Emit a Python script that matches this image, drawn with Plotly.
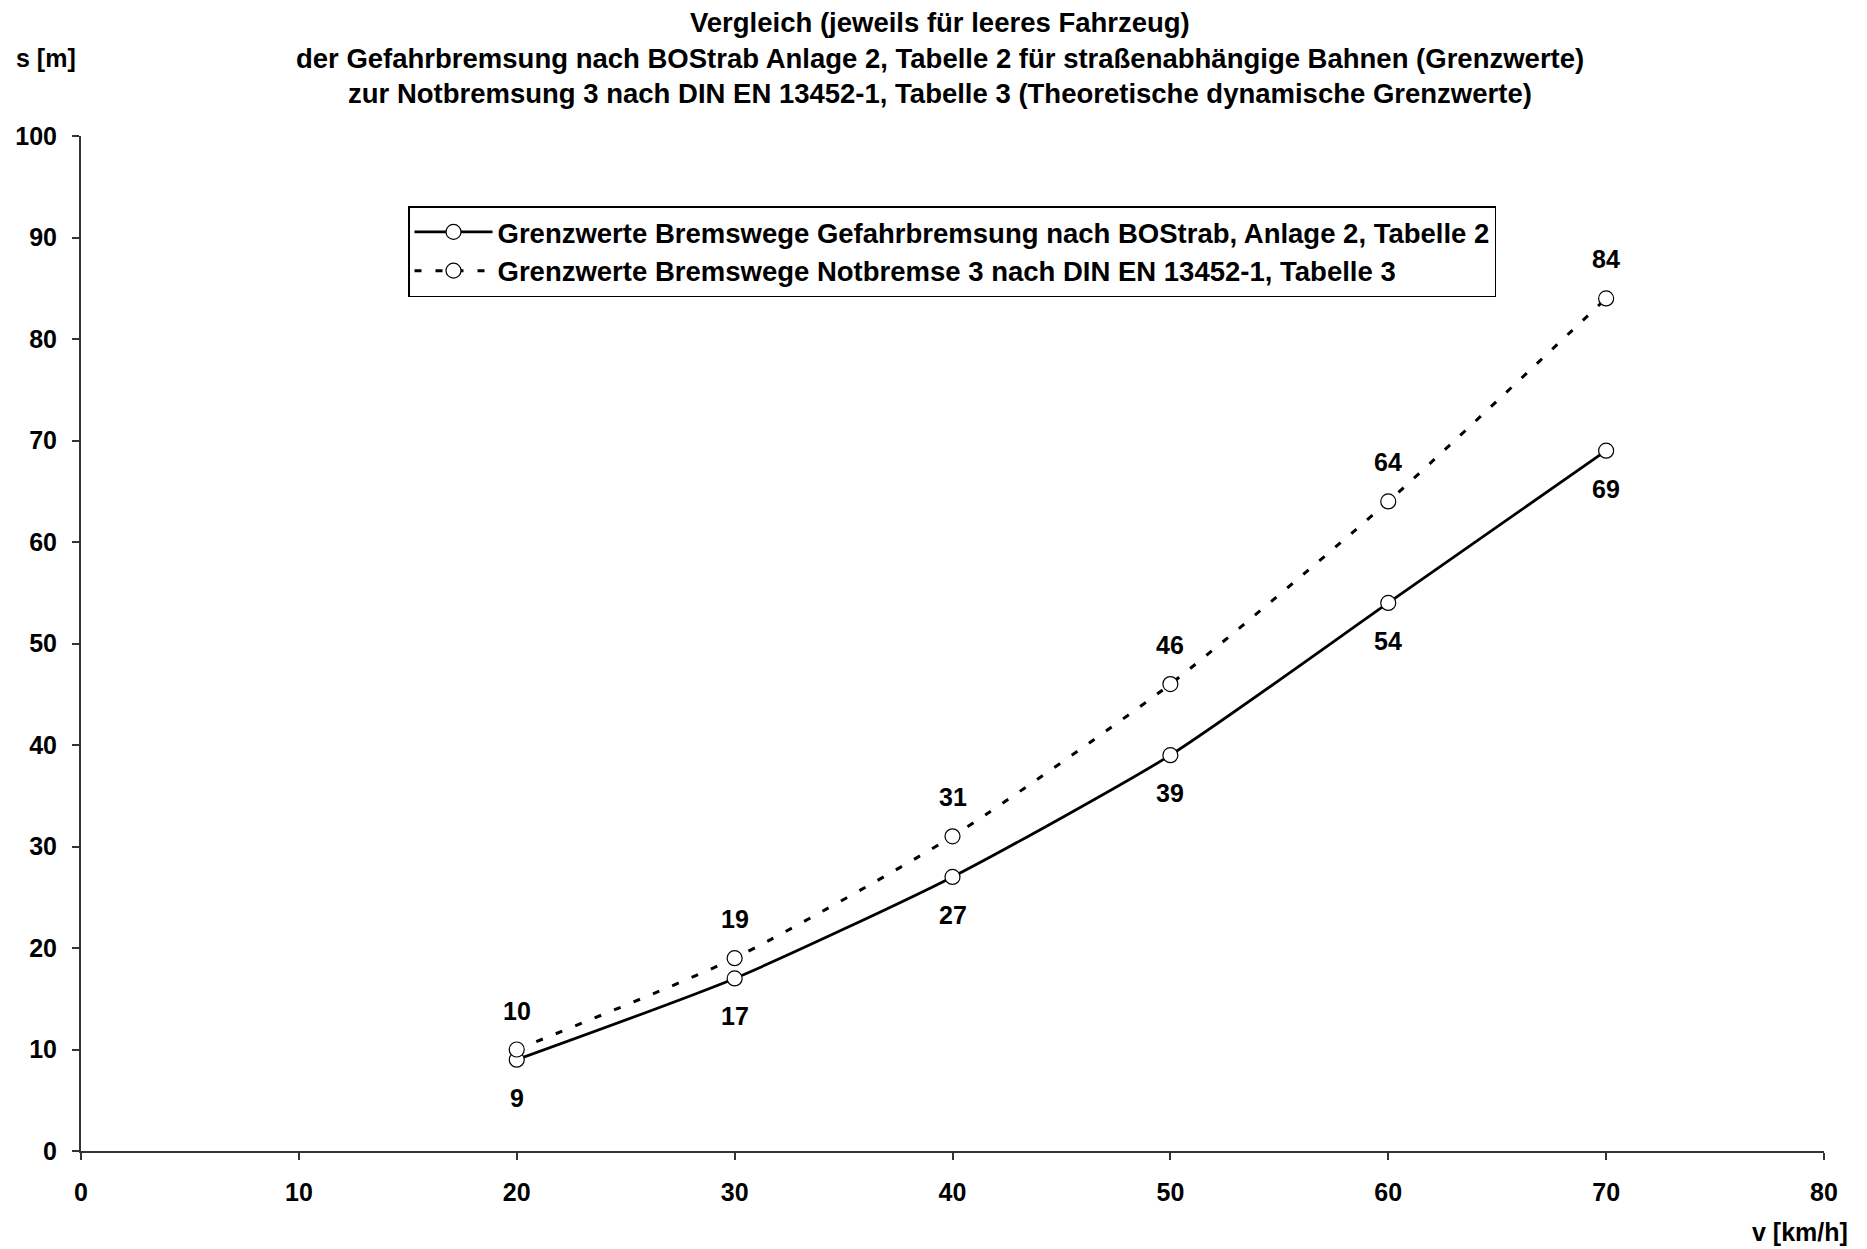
import plotly.graph_objects as go

# Geschwindigkeit v [km/h]
speeds = [20, 30, 40, 50, 60, 70]
# Bremswege s [m]
bostrab_gefahrbremsung = [9, 17, 27, 39, 54, 69]
din_notbremse3 = [10, 19, 31, 46, 64, 84]

series_names = [
    "Grenzwerte Bremswege Gefahrbremsung nach BOStrab, Anlage 2, Tabelle 2",
    "Grenzwerte Bremswege Notbremse 3 nach DIN EN 13452-1, Tabelle 3",
]
title_lines = [
    "Vergleich (jeweils für leeres Fahrzeug)",
    "der Gefahrbremsung nach BOStrab Anlage 2, Tabelle 2 für straßenabhängige Bahnen (Grenzwerte)",
    "zur Notbremsung 3 nach DIN EN 13452-1, Tabelle 3 (Theoretische dynamische Grenzwerte)",
]
x_ticks = [0, 10, 20, 30, 40, 50, 60, 70, 80]
y_ticks = [0, 10, 20, 30, 40, 50, 60, 70, 80, 90, 100]

FONT = "Liberation Sans"
W, H = 1867, 1249
ML, MR, MT, MB = 81, 43, 136, 98
PW, PH = W - ML - MR, H - MT - MB


def px_x(px):
    return (px - ML) / PW


def px_y(py):
    return (H - MB - py) / PH


marker_style = dict(symbol="circle", size=15, color="white",
                    line=dict(color="black", width=1.2))

fig = go.Figure()
fig.add_trace(go.Scatter(
    x=speeds, y=bostrab_gefahrbremsung, name=series_names[0],
    mode="lines+markers",
    line=dict(color="black", width=2.8, shape="spline", smoothing=0.6),
    marker=marker_style,
))
fig.add_trace(go.Scatter(
    x=speeds, y=din_notbremse3, name=series_names[1],
    mode="lines+markers",
    line=dict(color="black", width=3, dash="7px,14px", shape="spline", smoothing=0.6),
    marker=marker_style,
))

annotations = []
# Wertebeschriftungen: BOStrab unterhalb, DIN oberhalb der Punkte
for xv, yv in zip(speeds, bostrab_gefahrbremsung):
    annotations.append(dict(x=xv, y=yv, text=f"<b>{yv}</b>", showarrow=False,
                            yshift=-38, font=dict(family=FONT, size=25, color="black")))
for xv, yv in zip(speeds, din_notbremse3):
    annotations.append(dict(x=xv, y=yv, text=f"<b>{yv}</b>", showarrow=False,
                            yshift=39, font=dict(family=FONT, size=25, color="black")))

# Titel, zeilenweise
for line, cy in zip(title_lines, [23, 58, 93]):
    annotations.append(dict(x=px_x(940), y=px_y(cy), xref="paper", yref="paper",
                            text=f"<b>{line}</b>", showarrow=False,
                            xanchor="center", yanchor="middle",
                            font=dict(family=FONT, size=27.5, color="black")))

# Achsentitel
annotations.append(dict(x=px_x(14), y=px_y(58), xref="paper", yref="paper",
                        text="<b>s [m]</b>", showarrow=False,
                        xanchor="left", yanchor="middle",
                        font=dict(family=FONT, size=25, color="black")))
annotations.append(dict(x=px_x(1850), y=px_y(1232), xref="paper", yref="paper",
                        text="<b>v [km/h]</b>", showarrow=False,
                        xanchor="right", yanchor="middle",
                        font=dict(family=FONT, size=25, color="black")))

axis_common = dict(
    showgrid=False, zeroline=False, showline=True,
    linecolor="#333333", linewidth=2,
    ticks="outside", ticklen=7, tickwidth=2, tickcolor="#333333",
    tickfont=dict(family=FONT, size=25, color="black", weight="bold"),
)

fig.update_layout(
    width=W, height=H,
    margin=dict(l=ML, r=MR, t=MT, b=MB),
    paper_bgcolor="white", plot_bgcolor="white",
    xaxis=dict(range=[0, 80], tickvals=x_ticks, ticklabelstandoff=11, **axis_common),
    yaxis=dict(range=[0, 100], tickvals=y_ticks, ticklabelstandoff=10, **axis_common),
    legend=dict(
        x=px_x(408), y=px_y(206), xanchor="left", yanchor="top",
        bgcolor="white", bordercolor="black", borderwidth=1.5,
        font=dict(family=FONT, size=27.5, color="black", weight="bold"),
        itemwidth=78, tracegroupgap=0,
    ),
    showlegend=True,
    annotations=annotations,
)

fig.write_html("out.html")
